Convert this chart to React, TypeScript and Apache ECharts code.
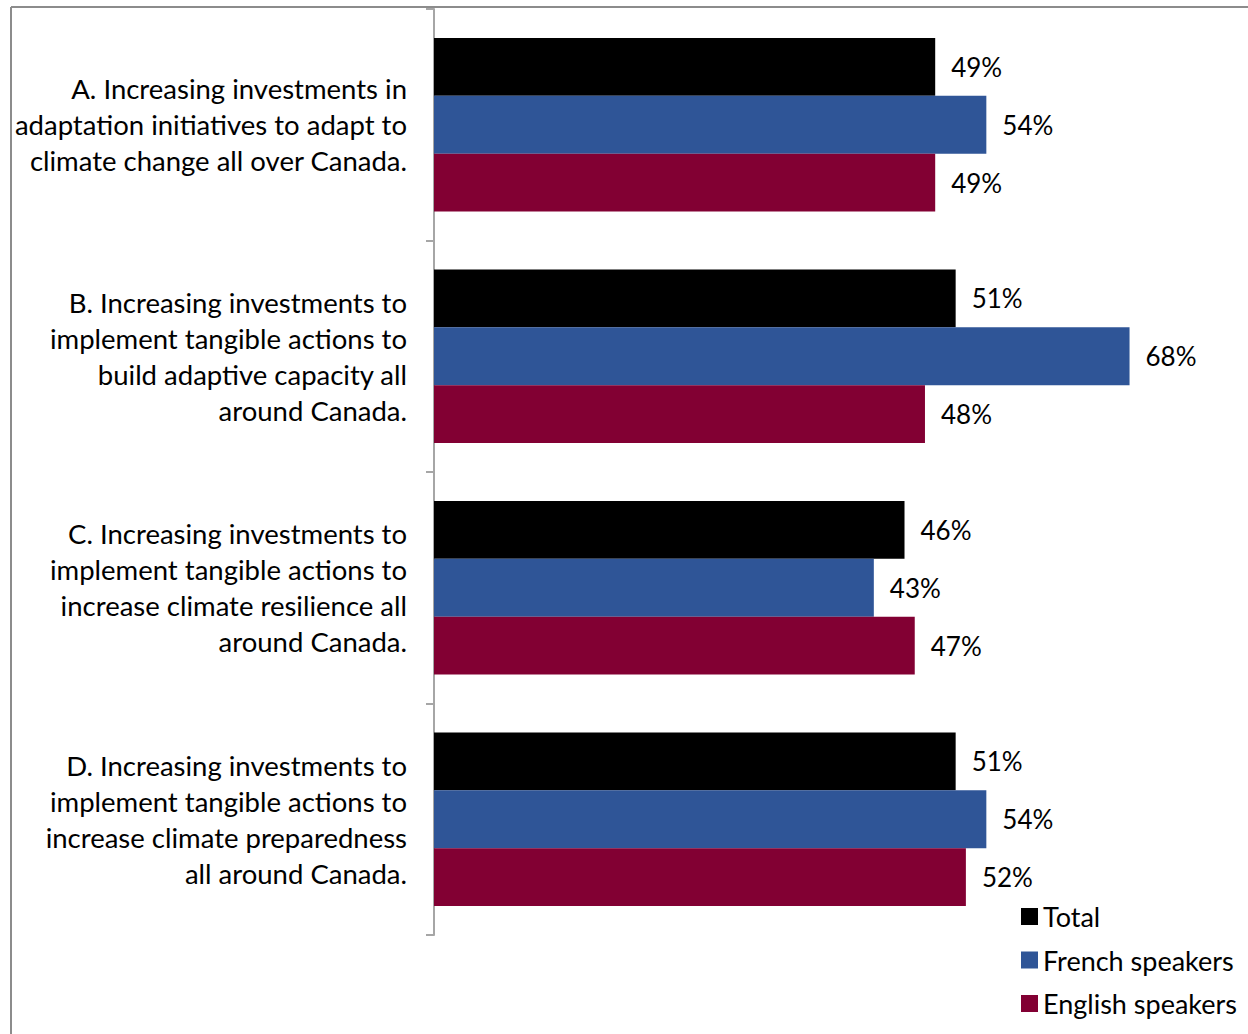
import React, { useEffect, useRef } from "react";
import * as echarts from "echarts";

const categories = [
  "A. Increasing investments in\nadaptation initiatives to adapt to\nclimate change all over Canada.",
  "B. Increasing investments to\nimplement tangible actions to\nbuild adaptive capacity all\naround Canada.",
  "C. Increasing investments to\nimplement tangible actions to\nincrease climate resilience all\naround Canada.",
  "D. Increasing investments to\nimplement tangible actions to\nincrease climate preparedness\nall around Canada.",
];
const seriesNames = ["Total", "French speakers", "English speakers"];
const totalValues = [49, 51, 46, 51];
const frenchValues = [54, 68, 43, 54];
const englishValues = [49, 48, 47, 52];
const colors = ["#000000", "#2F5597", "#820033"];

const FONT = "Lato";

export default function App() {
  const ref = useRef<HTMLDivElement>(null);
  useEffect(() => {
    document.body.style.margin = "0";
    const chart = echarts.init(ref.current!, undefined, { renderer: "svg" });
    const data = [totalValues, frenchValues, englishValues];
    chart.setOption({
      animation: false,
      textStyle: { fontFamily: FONT },
      grid: { left: 434, top: 9, bottom: 99, right: 98, containLabel: false },
      xAxis: {
        type: "value",
        min: 0,
        max: 70,
        show: false,
      },
      yAxis: {
        type: "category",
        inverse: true,
        data: categories,
        axisLine: { lineStyle: { color: "#a6a6a6", width: 2 } },
        axisTick: { show: true, length: 8, lineStyle: { color: "#a6a6a6", width: 2 } },
        axisLabel: {
          color: "#000",
          fontSize: 27.5,
          lineHeight: 36,
          align: "right",
          margin: 27,
          fontFamily: FONT,
        },
      },
      legend: {
        orient: "vertical",
        left: 1016,
        top: 898,
        itemWidth: 17,
        itemHeight: 17,
        itemGap: 16.5,
        icon: "rect",
        textStyle: { fontSize: 27, color: "#000", fontFamily: FONT, lineHeight: 26 },
        data: seriesNames,
      },
      graphic: [
        {
          type: "line",
          shape: { x1: 11, y1: 7, x2: 11, y2: 1034 },
          style: { stroke: "#8c8c8c", lineWidth: 2 },
        },
        {
          type: "line",
          shape: { x1: 11, y1: 7, x2: 1248, y2: 7 },
          style: { stroke: "#8c8c8c", lineWidth: 2 },
        },
      ],
      series: seriesNames.map((name, i) => ({
        name,
        type: "bar",
        data: data[i],
        barGap: "0%",
        barCategoryGap: "25%",
        itemStyle: { color: colors[i] },
        label: {
          show: true,
          position: "right",
          distance: 16,
          formatter: "{c}%",
          color: "#000",
          fontSize: 26,
          fontFamily: FONT,
        },
      })),
    });
    return () => chart.dispose();
  }, []);
  return <div ref={ref} style={{ width: 1248, height: 1034 }} />;
}
